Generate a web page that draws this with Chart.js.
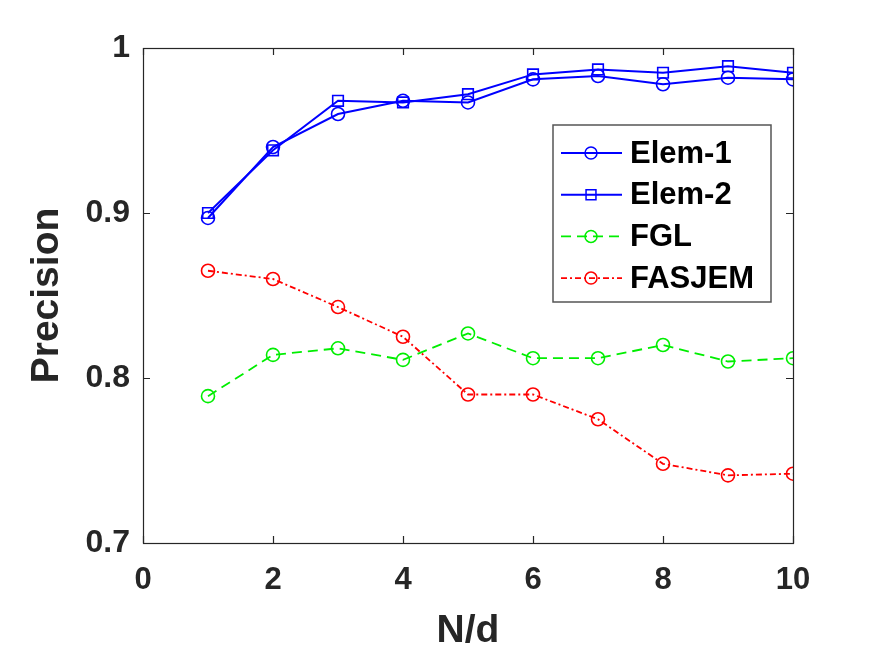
<!DOCTYPE html>
<html>
<head>
<meta charset="utf-8">
<script src="https://cdn.jsdelivr.net/npm/chart.js@4/dist/chart.umd.min.js"></script>
<style>
  html, body { margin: 0; padding: 0; background: #fff; }
  #wrap { width: 875px; height: 656px; }
</style>
</head>
<body>
<div id="wrap"><canvas id="c" width="875" height="656"></canvas></div>
<script>
const ND = [1, 2, 3, 4, 5, 6, 7, 8, 9, 10];
const elem1 = [0.897, 0.940, 0.960, 0.968, 0.967, 0.981, 0.983, 0.978, 0.982, 0.981];
const elem2 = [0.900, 0.938, 0.968, 0.967, 0.972, 0.984, 0.987, 0.985, 0.989, 0.985];
const fgl = [0.789, 0.814, 0.818, 0.811, 0.827, 0.812, 0.812, 0.820, 0.810, 0.812];
const fasjem = [0.865, 0.860, 0.843, 0.825, 0.790, 0.790, 0.775, 0.748, 0.741, 0.742];
const xTicks = [0, 2, 4, 6, 8, 10];
const yTicks = [0.7, 0.8, 0.9, 1.0];

const FONT = "'Liberation Sans', Arial, Helvetica, sans-serif";
const AXIS = "#262626";
const pts = ys => ys.map((y, i) => ({ x: ND[i], y }));

// MATLAB-style box with inward ticks on all four sides
const boxPlugin = {
  id: "box",
  afterDraw(chart) {
    const { ctx, chartArea: a, scales: { x, y } } = chart;
    ctx.save();
    ctx.strokeStyle = AXIS;
    ctx.lineWidth = 1.2;
    ctx.strokeRect(a.left + 0.5, a.top + 0.5, a.right - a.left, a.bottom - a.top);
    ctx.beginPath();
    for (const v of xTicks) {
      const px = Math.round(x.getPixelForValue(v)) + 0.5;
      ctx.moveTo(px, a.bottom); ctx.lineTo(px, a.bottom - 7);
      ctx.moveTo(px, a.top); ctx.lineTo(px, a.top + 7);
    }
    for (const v of yTicks) {
      const py = Math.round(y.getPixelForValue(v)) + 0.5;
      ctx.moveTo(a.left, py); ctx.lineTo(a.left + 7, py);
      ctx.moveTo(a.right, py); ctx.lineTo(a.right - 7, py);
    }
    ctx.stroke();
    ctx.restore();
  },
};

// legend box inside the axes, upper right
const legendPlugin = {
  id: "boxLegend",
  afterDraw(chart) {
    const { ctx } = chart;
    const bx = 553, by = 125, bw = 218, bh = 177;
    ctx.save();
    ctx.fillStyle = "#fff";
    ctx.fillRect(bx, by, bw, bh);
    ctx.strokeStyle = "#555";
    ctx.lineWidth = 1.5;
    ctx.strokeRect(bx, by, bw, bh);
    chart.data.datasets.forEach((ds, i) => {
      const cy = 153 + i * 41.7;
      ctx.strokeStyle = ds.borderColor;
      ctx.lineWidth = ds.borderWidth;
      ctx.setLineDash(ds.borderDash || []);
      ctx.beginPath();
      ctx.moveTo(561, cy); ctx.lineTo(622, cy);
      ctx.stroke();
      ctx.setLineDash([]);
      ctx.strokeStyle = ds.pointBorderColor;
      ctx.fillStyle = "rgba(0,0,0,0)";
      ctx.lineWidth = 1.5;
      Chart.helpers.drawPoint(ctx, {
        pointStyle: ds.pointStyle, radius: ds.pointRadius - 0.5, borderWidth: 1.5, rotation: 0,
      }, 591, cy);
      ctx.fillStyle = "#000";
      ctx.font = `bold 31px ${FONT}`;
      ctx.textBaseline = "middle";
      ctx.fillText(ds.label, 630, cy + 1);
    });
    ctx.restore();
  },
};

const common = { fill: false, tension: 0, pointBackgroundColor: "rgba(0,0,0,0)", pointBorderWidth: 1.6 };

new Chart(document.getElementById("c"), {
  type: "line",
  data: {
    datasets: [
      { ...common, label: "Elem-1", data: pts(elem1), borderColor: "#0000ff", pointBorderColor: "#0000ff",
        borderWidth: 2, pointStyle: "circle", pointRadius: 6.5 },
      { ...common, label: "Elem-2", data: pts(elem2), borderColor: "#0000ff", pointBorderColor: "#0000ff",
        borderWidth: 2, pointStyle: "rect", pointRadius: 7.5 },
      { ...common, label: "FGL", data: pts(fgl), borderColor: "#00ee00", pointBorderColor: "#00ee00",
        borderWidth: 1.8, borderDash: [10, 6], pointStyle: "circle", pointRadius: 6.5 },
      { ...common, label: "FASJEM", data: pts(fasjem), borderColor: "#ff0000", pointBorderColor: "#ff0000",
        borderWidth: 1.8, borderDash: [6, 3, 2, 3], pointStyle: "circle", pointRadius: 6.5 },
    ],
  },
  options: {
    responsive: false,
    animation: false,
    events: [],
    layout: { padding: { left: 0, top: 48, right: 82, bottom: 0 } },
    plugins: { legend: { display: false }, tooltip: { enabled: false } },
    scales: {
      x: {
        type: "linear", min: 0, max: 10,
        afterFit: s => { s.height = 113; },
        afterBuildTicks: s => { s.ticks = xTicks.map(v => ({ value: v })); },
        grid: { display: false, drawTicks: false },
        border: { display: false },
        ticks: { color: "#262626", padding: 19, font: { family: FONT, size: 31, weight: "bold" } },
        title: { display: true, text: "N/d", color: "#262626", padding: { top: 0, bottom: 5 },
          font: { family: FONT, size: 39, weight: "bold", lineHeight: 1 } },
      },
      y: {
        type: "linear", min: 0.7, max: 1.0,
        afterFit: s => { s.width = 143; },
        afterBuildTicks: s => { s.ticks = yTicks.map(v => ({ value: v })); },
        grid: { display: false, drawTicks: false },
        border: { display: false },
        ticks: { color: "#262626", padding: 13, font: { family: FONT, size: 32, weight: "bold" },
          callback: v => (v === 1 ? "1" : v.toFixed(1)) },
        title: { display: true, text: "Precision", color: "#262626", padding: { top: 28, bottom: 0 },
          font: { family: FONT, size: 39, weight: "bold", lineHeight: 1 } },
      },
    },
  },
  plugins: [boxPlugin, legendPlugin],
});
</script>
</body>
</html>
